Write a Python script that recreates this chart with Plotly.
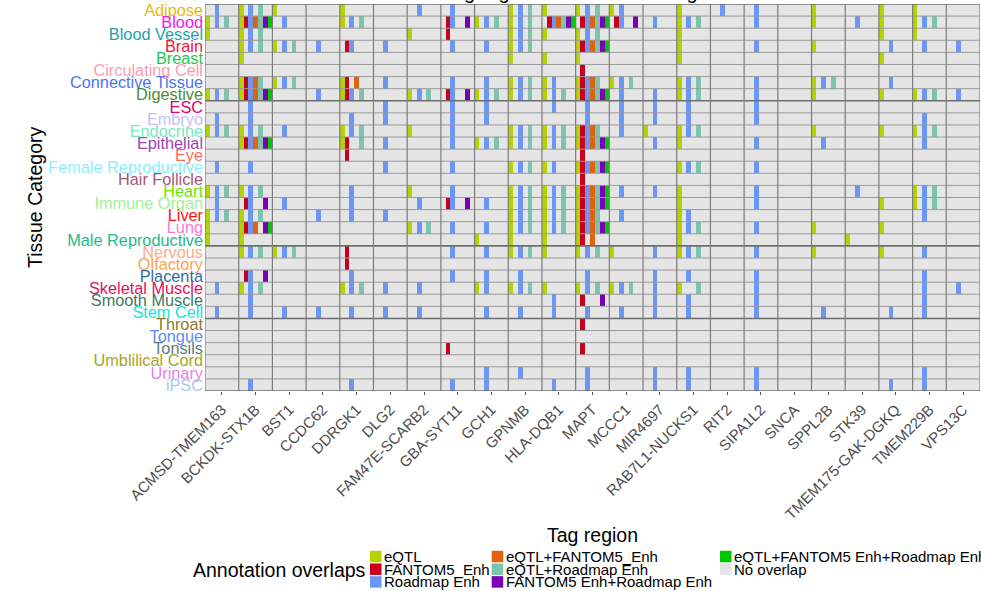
import plotly.graph_objects as go

# ---------------- data ----------------
tissues = ["Adipose", "Blood", "Blood Vessel", "Brain", "Breast", "Circulating Cell",
           "Connective Tissue", "Digestive", "ESC", "Embryo", "Endocrine", "Epithelial",
           "Eye", "Female Reproductive", "Hair Follicle", "Heart", "Immune Organ", "Liver",
           "Lung", "Male Reproductive", "Nervous", "Olfactory", "Placenta", "Skeletal Muscle",
           "Smooth Muscle", "Stem Cell", "Throat", "Tongue", "Tonsils", "Umblilical Cord",
           "Urinary", "iPSC"]
tissue_colors = ["#E8B90E", "#F414F4", "#1AA3AE", "#F8123C", "#1EC94F", "#FF9BB0",
                 "#4C74F0", "#4E8A36", "#E2007D", "#C6BEF8", "#79E8BF", "#9B45B3",
                 "#FF6A5E", "#8CEEFF", "#A3577C", "#6BE600", "#A2F09A", "#FF1010",
                 "#FF78CF", "#1FB98A", "#FFAB85", "#FFA246", "#2F6E9F", "#E3125B",
                 "#3F7A5F", "#11E5E0", "#8C7A2D", "#5C8CF0", "#5E7C7C", "#A5A524",
                 "#E27FEE", "#A9C8EE"]
regions = ["ACMSD-TMEM163", "BCKDK-STX1B", "BST1", "CCDC62", "DDRGK1", "DLG2",
           "FAM47E-SCARB2", "GBA-SYT11", "GCH1", "GPNMB", "HLA-DQB1", "MAPT", "MCCC1",
           "MIR4697", "RAB7L1-NUCKS1", "RIT2", "SIPA1L2", "SNCA", "SPPL2B", "STK39",
           "TMEM175-GAK-DGKQ", "TMEM229B", "VPS13C"]
annotation_types = ["eQTL", "FANTOM5_Enh", "Roadmap Enh", "eQTL+FANTOM5_Enh",
                    "eQTL+Roadmap Enh", "FANTOM5 Enh+Roadmap Enh",
                    "eQTL+FANTOM5 Enh+Roadmap Enh"]
annotation_colors = ["#B5D300", "#C8001E", "#6A96F5", "#E0620C", "#7CC4AE", "#7A00B5", "#00C800"]
no_overlap_label = "No overlap"
no_overlap_color = "#E5E5E5"

# one token per tag region: digits = annotation types present (index into annotation_types), "-" = none
overlaps_adipose_to_digestive = [
    "2 024 0 - 0 - 2 2 - 024 0 024 02 - 0 2 2 - 0 - 0 0 -",
    "024 0123456 2 - 024 - - 125 024 024 123456 123456 125 2 024 - 2 - 0 2 0 024 -",
    "0 024 - - - - 0 1 - 024 0 024 - - 0 - - - - - 0 0 -",
    "- 024 024 2 12 2 - 2 2 024 - 0123456 - - 0 - 2 - 0 - 2 2 2",
    "- 0 - - - - - - - 0 0 0 - - 0 - - - - - 0 - -",
    "- - - - - - - - - - - 1 - - - - - - - - - - -",
    "- 01234 024 - 013 2 - 2 2 024 02 01234 024 - 024 - 2 - 024 - 2 - -",
    "024 0123456 - 2 0124 - 024 125 024 024 024 0123456 2 2 024 - 2 - 0 - 0 024 2",
]
overlaps_esc_to_male = [
    "- 2 - - - 2 - 2 2 - 2 2 2 2 2 - 2 - - - - - -",
    "2 2 - - 2 2 - 2 2 - - 2 2 2 2 - 2 - - - - 2 -",
    "024 024 2 - 024 - 0 2 - 024 024 01234 2 0 024 - - - 0 - 0 024 -",
    "- 0123456 - - 014 2 - 2 024 024 024 0123456 - 2 0 - 2 - 2 - - 2 -",
    "- - - - 1 - - - - - - 1 - - - - - - - - - - -",
    "2 2 - - - 2 - 2 - 024 02 0123456 - - 024 - 2 - - - - - -",
    "- - - - - - - - - - - 1 - - - - - - - - - - -",
    "024 024 - - 2 - 0 2 - 024 024 0123456 2 2 0 - 2 - - 2 - 024 -",
    "2 125 2 - 2 - 2 125 2 024 024 0123456 - - 0 - 2 - - - 0 024 -",
    "024 024 - 2 2 2 - - - 024 024 01234 2 - 02 - - - - - - 2 -",
    "0 012356 - - - - 024 2 2 024 024 0123456 - - 024 - 2 - 0 - 0 - -",
    "0 0 - - - - - - 0 0 0 013 - - 0 - - - - 0 - - -",
]
overlaps_nervous_to_stem = [
    "- 024 024 - 1 - - 2 2 024 0 024 0 2 024 - 2 - 0 - 0 2 -",
    "- - - - 1 - - - - - - - - - - - - - - - - - -",
    "- 125 - - 2 - - 2 2 2 - 2 - 2 2 - 2 - - - - 2 -",
    "2 024 - - 024 2 2 - 02 024 0 024 024 2 04 - 2 - - - - 2 2",
    "- 2 - - - - - - - - 2 15 - 2 2 - 2 - - - - 2 -",
    "2 2 2 2 2 2 2 - 2 2 2 2 2 2 2 - 2 - 2 - 2 2 -",
]
overlaps_throat_to_ipsc = [
    "- - - - - - - - - - - 1 - - - - - - - - - - -",
    "- - - - - - - - - - - - - - - - - - - - - - -",
    "- - - - - - - 1 - - - 1 - - - - - - - - - - -",
    "- - - - - - - - - - - - - - - - - - - - - - -",
    "- - - - - - - - 2 2 - 2 - 2 2 - 2 - - - - 2 -",
    "- 2 - - 2 - - 2 2 - 2 2 - 2 2 - 2 - - - 2 2 -",
]
row_groups = [overlaps_adipose_to_digestive, overlaps_esc_to_male,
              overlaps_nervous_to_stem, overlaps_throat_to_ipsc]

# ---------------- build matrix ----------------
n_types = len(annotation_types)
n_reg = len(regions)
rows = [r for g in row_groups for r in g]
z = []
for line in rows:
    zr = [0] * (n_types * n_reg)
    for j, tok in enumerate(line.split()):
        if tok != "-":
            for ch in tok:
                zr[j * n_types + int(ch)] = int(ch) + 1
    z.append(zr)

levels = [no_overlap_color] + annotation_colors
nl = len(levels)
colorscale = []
for i, c in enumerate(levels):
    colorscale.append([i / nl, c])
    colorscale.append([(i + 1) / nl, c])

W, H = 981, 591
L, R, T, B = 205, 980, 4, 391


def px(xp):
    return (xp - L) / (R - L)


def py(yp):
    return (B - yp) / (B - T)


fig = go.Figure(go.Heatmap(
    z=z, x=list(range(n_types * n_reg)), y=list(range(len(tissues))),
    colorscale=colorscale, zmin=-0.5, zmax=nl - 0.5, showscale=False,
    hoverinfo="skip"))

shapes = []
group_breaks = []
acc = 0
for g in row_groups[:-1]:
    acc += len(g)
    group_breaks.append(acc)
for r in range(len(tissues) + 1):
    thick = r in group_breaks or r in (0, len(tissues))
    shapes.append(dict(type="line", xref="x", yref="y",
                       x0=-0.5, x1=n_types * n_reg - 0.5, y0=r - 0.5, y1=r - 0.5,
                       line=dict(color="#6E6E6E" if thick else "#9A9A9A",
                                 width=1.6 if thick else 1)))
for j in range(n_reg + 1):
    shapes.append(dict(type="line", xref="x", yref="y",
                       x0=j * n_types - 0.5, x1=j * n_types - 0.5,
                       y0=-0.5, y1=len(tissues) - 0.5,
                       line=dict(color="#7D7D7D", width=1.2)))

font_family = "Liberation Sans, Arial, sans-serif"
annotations = []
annotations.append(dict(text="Tag regions and tissue categories", xref="paper", yref="paper",
                        x=px(592), y=py(5.5), xanchor="center", yanchor="bottom",
                        showarrow=False, font=dict(size=20, color="black", family=font_family)))
annotations.append(dict(text="Tissue Category", xref="paper", yref="paper",
                        x=px(35), y=py(197), xanchor="center", yanchor="middle", textangle=-90,
                        showarrow=False, font=dict(size=19.5, color="black", family=font_family)))
annotations.append(dict(text="Tag region", xref="paper", yref="paper",
                        x=px(592), y=py(535), xanchor="center", yanchor="middle",
                        showarrow=False, font=dict(size=19.5, color="black", family=font_family)))
annotations.append(dict(text="Annotation overlaps", xref="paper", yref="paper",
                        x=px(368), y=py(570), xanchor="right", yanchor="middle",
                        showarrow=False, font=dict(size=19.5, color="black", family=font_family)))

legend_labels = annotation_types + [no_overlap_label]
legend_cols = levels[1:] + [levels[0]]
col_x = [370, 491.7, 720]
row_y = [556.5, 569.2, 581.9]
key = 11.5
for i, (lab, col) in enumerate(zip(legend_labels, legend_cols)):
    cx = col_x[i // 3]
    cy = row_y[i % 3]
    shapes.append(dict(type="rect", xref="paper", yref="paper",
                       x0=px(cx), x1=px(cx + key), y0=py(cy + key / 2), y1=py(cy - key / 2),
                       fillcolor=col, line=dict(width=0)))
    annotations.append(dict(text=lab, xref="paper", yref="paper",
                            x=px(cx + key + 0.5), y=py(cy), xanchor="left", yanchor="middle",
                            showarrow=False,
                            font=dict(size=15, color="black", family=font_family)))

ticktext_y = ['<span style="color:%s">%s</span>' % (c, t) for t, c in zip(tissues, tissue_colors)]

fig.update_layout(
    width=W, height=H,
    margin=dict(l=L, r=W - R, t=T, b=H - B, pad=0),
    paper_bgcolor="white", plot_bgcolor=no_overlap_color,
    showlegend=False,
    shapes=shapes, annotations=annotations,
    font=dict(family=font_family),
    xaxis=dict(range=[-0.5, n_types * n_reg - 0.5],
               tickvals=[j * n_types + (n_types - 1) / 2 for j in range(n_reg)],
               ticktext=regions, tickangle=-45, ticks="outside", ticklen=3,
               tickcolor="#4D4D4D", tickwidth=1,
               tickfont=dict(size=15, color="#4D4D4D", family=font_family),
               showgrid=False, zeroline=False, showline=False, fixedrange=True),
    yaxis=dict(range=[len(tissues) - 0.5, -0.5],
               tickvals=list(range(len(tissues))), ticktext=ticktext_y,
               ticks="", ticklabelstandoff=1,
               tickfont=dict(size=16.3, family=font_family),
               showgrid=False, zeroline=False, showline=False, fixedrange=True),
)

fig.write_html("out.html")
